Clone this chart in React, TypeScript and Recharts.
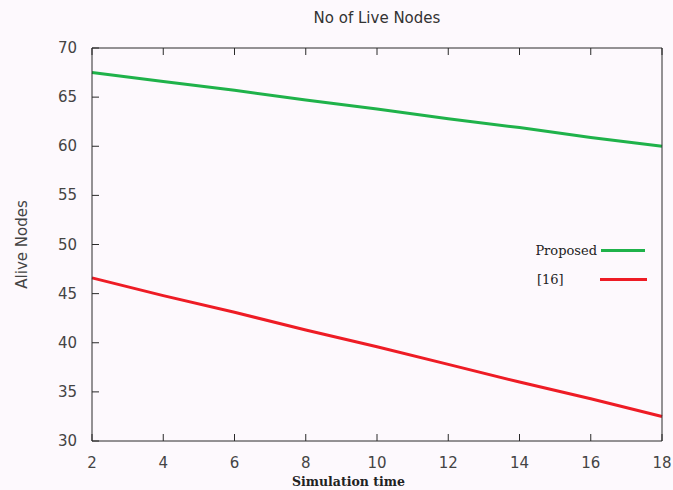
import { LineChart, Line, XAxis, YAxis, Legend } from 'recharts';

const times = [2, 4, 6, 8, 10, 12, 14, 16, 18];
const proposedNodes = [67.5, 66.6, 65.7, 64.7, 63.8, 62.8, 61.9, 60.9, 60.0];
const refNodes = [46.6, 44.8, 43.1, 41.3, 39.6, 37.8, 36.0, 34.3, 32.5];
const xTicks = [2, 4, 6, 8, 10, 12, 14, 16, 18];
const yTicks = [30, 35, 40, 45, 50, 55, 60, 65, 70];

const seriesNames = ['Proposed', '[16]'];
const seriesColors = ['#1fb24a', '#ee1c25'];

const data = times.map((t, i) => ({ t, proposed: proposedNodes[i], ref: refNodes[i] }));

const axisColor = '#2a2a2a';
const labelFont = '"DejaVu Sans", sans-serif';
const serifFont = '"DejaVu Serif", serif';

const BottomTick = (props: any) => {
  const { x, y, payload } = props;
  return (
    <g>
      <line x1={x} y1={y} x2={x} y2={y - 7} stroke={axisColor} />
      <text x={x} y={y + 27} textAnchor="middle" fontFamily={labelFont} fontSize={15} fill="#444">
        {payload.value}
      </text>
    </g>
  );
};

const LeftTick = (props: any) => {
  const { x, y, payload } = props;
  return (
    <g>
      <line x1={x} y1={y} x2={x + 7} y2={y} stroke={axisColor} />
      <text x={x - 15} y={y + 5} textAnchor="end" fontFamily={labelFont} fontSize={15} fill="#444">
        {payload.value}
      </text>
    </g>
  );
};

const TopTick = (props: any) => {
  const { x, y } = props;
  return <line x1={x} y1={y} x2={x} y2={y + 7} stroke={axisColor} />;
};

const RightTick = (props: any) => {
  const { x, y } = props;
  return <line x1={x} y1={y} x2={x - 7} y2={y} stroke={axisColor} />;
};

const LegendBox = () => (
  <div style={{ width: 130 }}>
    {seriesNames.map((name, i) => (
      <div key={name} style={{ display: 'flex', alignItems: 'center', height: 29 }}>
        <span
          style={{
            width: i === 0 ? 70 : 60,
            paddingLeft: i === 0 ? 0 : 10,
            textAlign: i === 0 ? 'right' : 'left',
            fontFamily: serifFont,
            fontSize: 13,
            color: '#222',
          }}
        >
          {name}
        </span>
        <span
          style={{
            display: 'inline-block',
            marginLeft: i === 0 ? 4 : 3,
            width: i === 0 ? 44 : 47,
            height: 3,
            backgroundColor: seriesColors[i],
          }}
        ></span>
      </div>
    ))}
  </div>
);

export default function App() {
  return (
    <div style={{ position: 'absolute', left: 0, top: 0, background: '#fdf9fd' }}>
      <LineChart width={673} height={490} data={data} margin={{ top: 47, right: 10, bottom: 0, left: 32 }}>
        <XAxis
          dataKey="t"
          type="number"
          domain={[2, 18]}
          ticks={xTicks}
          height={49}
          axisLine={{ stroke: axisColor }}
          tickLine={false}
          tickSize={0}
          tickMargin={0}
          tick={<BottomTick />}
          label={{
            content: (p: any) => (
              <text
                x={p.viewBox.x + p.viewBox.width * 0.45}
                y={p.viewBox.y + 45}
                textAnchor="middle"
                fontFamily={serifFont}
                fontWeight="bold"
                fontSize={12.5}
                fill="#222"
              >
                Simulation time
              </text>
            ),
          }}
        />
        <XAxis
          xAxisId="top"
          orientation="top"
          dataKey="t"
          type="number"
          domain={[2, 18]}
          ticks={xTicks}
          height={1}
          axisLine={{ stroke: axisColor }}
          tickLine={false}
          tickSize={0}
          tickMargin={0}
          tick={<TopTick />}
          label={{
            content: (p: any) => (
              <text
                x={p.viewBox.x + p.viewBox.width / 2}
                y={23}
                textAnchor="middle"
                fontFamily={labelFont}
                fontSize={15}
                fill="#333"
              >
                No of Live Nodes
              </text>
            ),
          }}
        />
        <YAxis
          type="number"
          domain={[30, 70]}
          ticks={yTicks}
          width={60}
          axisLine={{ stroke: axisColor }}
          tickLine={false}
          tickSize={0}
          tickMargin={0}
          tick={<LeftTick />}
          label={{
            content: (p: any) => {
              const cx = p.viewBox.x - 10;
              const cy = p.viewBox.y + p.viewBox.height / 2;
              return (
                <text
                  x={cx}
                  y={cy}
                  transform={`rotate(-90 ${cx} ${cy})`}
                  textAnchor="middle"
                  dominantBaseline="central"
                  fontFamily={labelFont}
                  fontSize={15}
                  fill="#444"
                >
                  Alive Nodes
                </text>
              );
            },
          }}
        />
        <YAxis
          yAxisId="right"
          orientation="right"
          type="number"
          domain={[30, 70]}
          ticks={yTicks}
          width={1}
          axisLine={{ stroke: axisColor }}
          tickLine={false}
          tickSize={0}
          tickMargin={0}
          tick={<RightTick />}
        />
        <Legend
          layout="vertical"
          verticalAlign="middle"
          align="center"
          wrapperStyle={{ top: 236, left: 527, width: 130 }}
          content={<LegendBox />}
        />
        <Line
          type="linear"
          dataKey="proposed"
          name={seriesNames[0]}
          stroke={seriesColors[0]}
          strokeWidth={3}
          dot={false}
          isAnimationActive={false}
        />
        <Line
          type="linear"
          dataKey="ref"
          name={seriesNames[1]}
          stroke={seriesColors[1]}
          strokeWidth={3}
          dot={false}
          isAnimationActive={false}
        />
      </LineChart>
    </div>
  );
}
